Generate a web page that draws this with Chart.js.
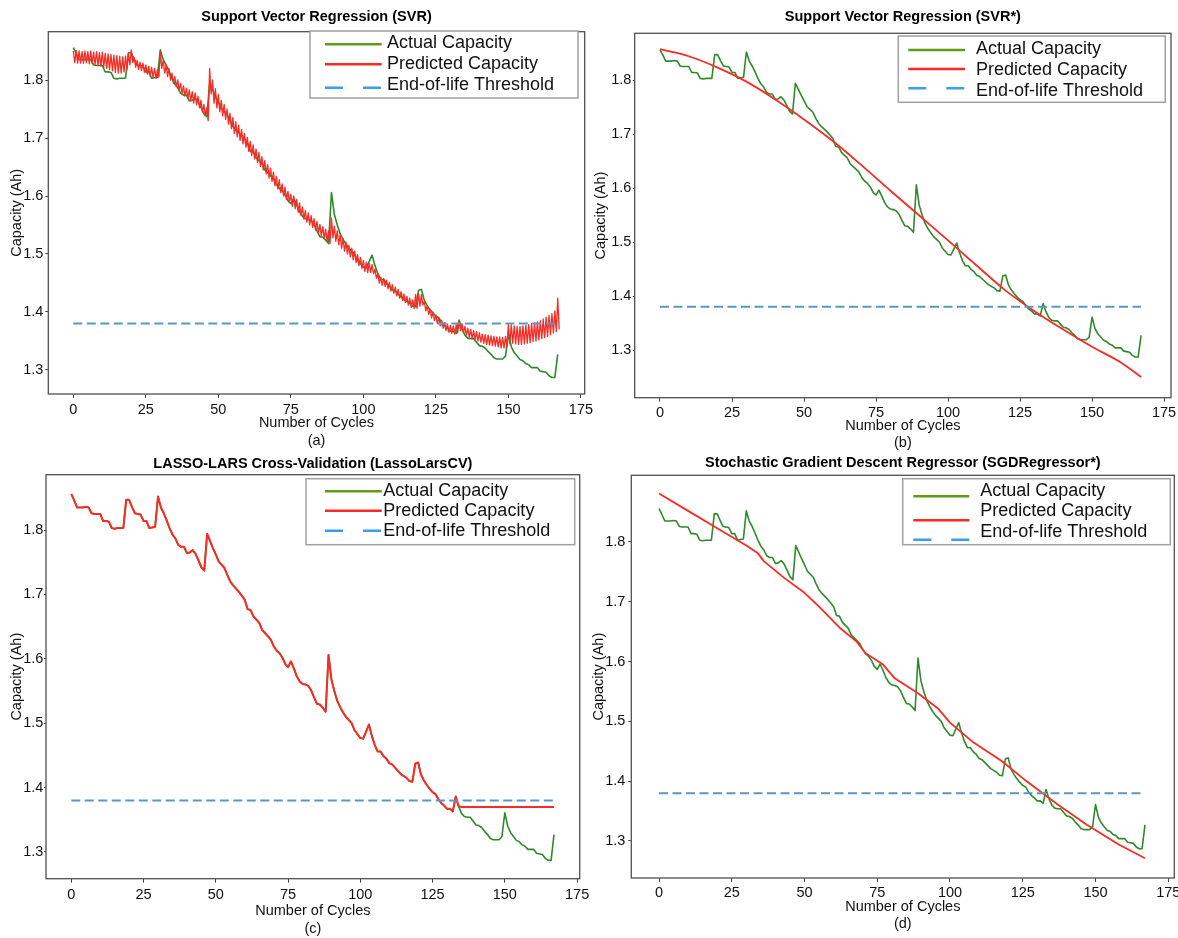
<!DOCTYPE html>
<html><head><meta charset="utf-8">
<script src="https://cdn.jsdelivr.net/npm/chart.js@4.4.1/dist/chart.umd.min.js"></script>
<style>
html,body{margin:0;padding:0;background:#fff;overflow:hidden;width:1178px;height:938px;position:relative;}
canvas{position:absolute;}
</style></head><body>
<canvas id="cA" width="600" height="470" style="left:0px;top:0px"></canvas>
<canvas id="cB" width="600" height="470" style="left:590px;top:0px"></canvas>
<canvas id="cC" width="600" height="493" style="left:0px;top:445px"></canvas>
<canvas id="cD" width="600" height="493" style="left:590px;top:445px"></canvas>
<script>
// ---------- data ----------
const actualCapacity = [
 1.856,1.846,1.835,1.835,1.835,1.836,1.835,1.826,1.825,1.825,
 1.825,1.814,1.814,1.813,1.803,1.802,1.803,1.803,1.803,1.847,
 1.847,1.836,1.826,1.825,1.824,1.814,1.814,1.803,1.804,1.805,
 1.852,1.835,1.826,1.815,1.803,1.793,1.787,1.777,1.774,1.774,
 1.764,1.765,1.769,1.763,1.753,1.742,1.737,1.794,1.783,1.772,
 1.762,1.751,1.746,1.741,1.730,1.720,1.714,1.709,1.704,1.698,
 1.692,1.677,1.676,1.666,1.661,1.656,1.645,1.640,1.635,1.630,
 1.620,1.613,1.609,1.602,1.592,1.587,1.596,1.585,1.573,1.565,
 1.561,1.560,1.558,1.551,1.540,1.530,1.529,1.524,1.518,1.606,
 1.568,1.550,1.535,1.525,1.517,1.510,1.505,1.500,1.489,1.483,
 1.477,1.476,1.487,1.498,1.480,1.466,1.456,1.456,1.449,1.445,
 1.438,1.436,1.431,1.426,1.421,1.418,1.415,1.410,1.409,1.437,
 1.439,1.420,1.411,1.404,1.398,1.393,1.390,1.382,1.376,1.372,
 1.367,1.367,1.363,1.386,1.371,1.360,1.355,1.354,1.354,1.348,
 1.342,1.341,1.338,1.332,1.327,1.321,1.319,1.319,1.319,1.324,
 1.361,1.340,1.330,1.324,1.318,1.316,1.311,1.309,1.304,1.304,
 1.304,1.298,1.297,1.296,1.290,1.287,1.287,1.327];

// (a) SVR prediction: upper and lower turning points of the zig-zag per cycle
const svrHigh = [
 1.850,1.851,1.850,1.849,1.850,1.849,1.850,1.848,1.849,1.847,
 1.848,1.846,1.845,1.844,1.843,1.842,1.841,1.840,1.841,1.846,
 1.852,1.838,1.834,1.831,1.829,1.826,1.824,1.822,1.820,1.818,
 1.848,1.834,1.826,1.820,1.812,1.806,1.800,1.794,1.790,1.786,
 1.783,1.780,1.778,1.772,1.765,1.758,1.752,1.820,1.800,1.785,
 1.775,1.765,1.758,1.750,1.743,1.735,1.728,1.722,1.715,1.708,
 1.701,1.694,1.688,1.681,1.675,1.668,1.661,1.654,1.648,1.641,
 1.634,1.628,1.621,1.615,1.608,1.603,1.600,1.594,1.588,1.581,
 1.575,1.571,1.566,1.561,1.556,1.551,1.547,1.543,1.540,1.562,
 1.548,1.540,1.533,1.527,1.521,1.515,1.510,1.505,1.499,1.494,
 1.489,1.486,1.484,1.482,1.474,1.466,1.460,1.458,1.455,1.451,
 1.447,1.443,1.439,1.435,1.431,1.427,1.424,1.421,1.430,1.432,
 1.430,1.418,1.411,1.405,1.400,1.395,1.390,1.386,1.382,1.379,
 1.377,1.376,1.378,1.385,1.380,1.375,1.372,1.370,1.368,1.366,
 1.364,1.362,1.361,1.360,1.359,1.358,1.357,1.357,1.356,1.358,
 1.380,1.378,1.376,1.375,1.375,1.376,1.377,1.378,1.380,1.381,
 1.383,1.385,1.388,1.391,1.394,1.397,1.402,1.424];
const svrLow = [
 1.830,1.829,1.829,1.829,1.830,1.828,1.828,1.827,1.825,1.824,
 1.822,1.820,1.818,1.816,1.813,1.812,1.812,1.814,1.818,1.826,
 1.830,1.822,1.818,1.816,1.813,1.810,1.807,1.804,1.803,1.805,
 1.820,1.812,1.806,1.800,1.794,1.788,1.782,1.776,1.772,1.768,
 1.764,1.760,1.757,1.752,1.745,1.738,1.730,1.776,1.760,1.752,
 1.745,1.738,1.732,1.724,1.716,1.708,1.702,1.696,1.690,1.684,
 1.677,1.670,1.664,1.658,1.651,1.645,1.638,1.631,1.625,1.618,
 1.612,1.606,1.600,1.594,1.588,1.582,1.578,1.572,1.566,1.560,
 1.555,1.550,1.546,1.541,1.536,1.531,1.527,1.522,1.518,1.528,
 1.522,1.516,1.510,1.505,1.500,1.495,1.490,1.485,1.480,1.475,
 1.470,1.468,1.468,1.466,1.458,1.450,1.446,1.444,1.440,1.436,
 1.432,1.428,1.424,1.420,1.416,1.412,1.408,1.406,1.406,1.410,
 1.412,1.402,1.396,1.390,1.385,1.380,1.376,1.372,1.368,1.365,
 1.363,1.362,1.364,1.368,1.364,1.360,1.356,1.354,1.352,1.350,
 1.348,1.346,1.344,1.343,1.342,1.341,1.340,1.338,1.338,1.340,
 1.345,1.346,1.345,1.344,1.344,1.345,1.346,1.347,1.349,1.350,
 1.352,1.354,1.356,1.358,1.361,1.364,1.366,1.370];

// (b) SVR* prediction
const svrStarCycles = [0,10,20,30,40,50,60,70,80,90,100,110,120,130,140,150,160,167];
const svrStarPred   = [1.857,1.844,1.823,1.797,1.764,1.727,1.687,1.642,1.595,1.549,1.503,1.456,1.410,1.372,1.338,1.306,1.277,1.250];

// (c) LassoLarsCV prediction
const lassoPred = [
 1.856,1.846,1.835,1.835,1.835,1.836,1.835,1.826,1.825,1.825,
 1.825,1.814,1.814,1.813,1.803,1.802,1.803,1.803,1.803,1.847,
 1.847,1.836,1.826,1.825,1.824,1.814,1.814,1.803,1.804,1.805,
 1.852,1.835,1.826,1.815,1.803,1.793,1.787,1.777,1.774,1.774,
 1.764,1.765,1.769,1.763,1.753,1.742,1.737,1.794,1.783,1.772,
 1.762,1.751,1.746,1.741,1.730,1.720,1.714,1.709,1.704,1.698,
 1.692,1.677,1.676,1.666,1.661,1.656,1.645,1.640,1.635,1.630,
 1.620,1.613,1.609,1.602,1.592,1.587,1.596,1.585,1.573,1.565,
 1.561,1.560,1.558,1.551,1.540,1.530,1.529,1.524,1.518,1.606,
 1.568,1.550,1.535,1.525,1.517,1.510,1.505,1.500,1.489,1.483,
 1.477,1.476,1.487,1.498,1.480,1.466,1.456,1.456,1.449,1.445,
 1.438,1.436,1.431,1.426,1.421,1.418,1.415,1.410,1.409,1.437,
 1.439,1.420,1.411,1.404,1.398,1.393,1.390,1.382,1.376,1.372,
 1.367,1.367,1.363,1.386,1.371,1.370,1.370,1.370,1.370,1.370,
 1.370,1.370,1.370,1.370,1.370,1.370,1.370,1.370,1.370,1.370,
 1.370,1.370,1.370,1.370,1.370,1.370,1.370,1.370,1.370,1.370,
 1.370,1.370,1.370,1.370,1.370,1.370,1.370,1.370];

// (d) SGDRegressor* prediction
const sgdCycles = [0,10,20,30,34,36,43,50,55,62,68,71,77,81,89,96,100,108,118,126,137,147,158,167];
const sgdPred   = [1.881,1.852,1.823,1.794,1.781,1.768,1.740,1.715,1.692,1.657,1.633,1.614,1.595,1.572,1.547,1.521,1.498,1.465,1.433,1.401,1.361,1.327,1.294,1.271];

const eolThreshold = 1.38;
const xTickValues = [0,25,50,75,100,125,150,175];
const yTickValues = [1.3,1.4,1.5,1.6,1.7,1.8];
const cycles = actualCapacity.map((_, i) => i);
const seriesNames = ['Actual Capacity','Predicted Capacity','End-of-life Threshold'];

// ---------- styling ----------
const FONT = "'Liberation Sans', Arial, Helvetica, sans-serif";
const GREEN = '#2e8a2a', GREEN_LEG = '#5e9d14';
const RED = '#fa2a24';
const BLUE = '#5897c6', BLUE_LEG = '#3b9cf0';

const pts = (xs, ys) => ys.map((y, i) => ({x: xs[i], y}));
const thresholdLine = () => [{x: cycles[0], y: eolThreshold}, {x: cycles[cycles.length - 1], y: eolThreshold}];

const framePlugin = {
  id: 'frame',
  afterDatasetsDraw(chart, args, o) {
    const {ctx, chartArea: a} = chart;
    ctx.save();
    ctx.strokeStyle = '#505050'; ctx.lineWidth = 1.3;
    ctx.strokeRect(a.left, a.top, a.right - a.left, a.bottom - a.top);
    const L = o.legend;
    const bx = a.right + L.dx, by = a.top + L.dy;
    ctx.fillStyle = '#fff'; ctx.fillRect(bx, by, L.w, L.h);
    ctx.strokeStyle = '#a0a0a0'; ctx.lineWidth = 1.5; ctx.strokeRect(bx, by, L.w, L.h);
    const colors = [GREEN_LEG, RED, BLUE_LEG];
    chart.data.datasets.forEach((ds, i) => {
      ctx.beginPath();
      ctx.setLineDash(i === 2 ? [18, 20] : []);
      ctx.strokeStyle = colors[i]; ctx.lineWidth = 2.6;
      ctx.moveTo(bx + L.lx0, by + L.ly[i]); ctx.lineTo(bx + L.lx1, by + L.ly[i]);
      ctx.stroke();
      ctx.setLineDash([]);
      ctx.fillStyle = '#111'; ctx.font = '18px ' + FONT;
      ctx.textAlign = 'left'; ctx.textBaseline = 'middle';
      ctx.fillText(ds.label, bx + L.tx, by + L.ty[i]);
    });
    ctx.restore();
  }
};

function makeChart(id, P) {
  return new Chart(document.getElementById(id), {
    type: 'line',
    data: {datasets: P.datasets},
    options: {
      responsive: false, animation: false, devicePixelRatio: 1,
      layout: {padding: P.pad},
      elements: {point: {radius: 0}, line: {borderJoinStyle: 'round', tension: 0}},
      plugins: {
        legend: {display: false}, tooltip: {enabled: false},
        title: {display: true, text: P.title, fullSize: false, color: '#000',
                font: {family: FONT, size: 14.5, weight: 'bold'}, padding: P.titlePad},
        subtitle: {display: true, text: P.sub, position: 'bottom', fullSize: false, color: '#111',
                   font: {family: FONT, size: 14.5}, padding: {top: 0, bottom: 0}},
        frame: {legend: P.legend}
      },
      scales: {
        x: {
          type: 'linear', min: P.xmin, max: P.xmax,
          afterBuildTicks: s => { s.ticks = xTickValues.map(v => ({value: v})); },
          afterFit: s => { s.height = P.xH; },
          grid: {display: true, drawOnChartArea: false, drawTicks: true, tickLength: P.xTL, color: '#444'},
          border: {display: false},
          ticks: {padding: P.xTP, color: '#111', font: {family: FONT, size: 14.5}, maxRotation: 0, autoSkip: false,
                  callback: v => String(v)},
          title: {display: true, text: 'Number of Cycles', color: '#111', font: {family: FONT, size: 14.5},
                  padding: {top: 0, bottom: 0}}
        },
        y: {
          type: 'linear', min: P.ymin, max: P.ymax,
          afterBuildTicks: s => { s.ticks = yTickValues.map(v => ({value: v})); },
          afterFit: s => { s.width = P.yW; },
          grid: {display: true, drawOnChartArea: false, drawTicks: true, tickLength: P.yTL, color: '#444'},
          border: {display: false},
          ticks: {padding: P.yTP, color: '#111', font: {family: FONT, size: 14.5}, autoSkip: false,
                  callback: v => Number(v).toFixed(1)},
          title: {display: true, text: 'Capacity (Ah)', color: '#111', font: {family: FONT, size: 14.5},
                  padding: {top: P.yTitlePad, bottom: 0}}
        }
      }
    },
    plugins: [framePlugin]
  });
}

function baseSets(pred, predWidth) {
  return [
    {label: seriesNames[0], data: pts(cycles, actualCapacity), borderColor: GREEN, borderWidth: 1.6, order: 3},
    Object.assign({label: seriesNames[1], borderColor: RED, borderWidth: predWidth, order: 2}, pred),
    {label: seriesNames[2], data: thresholdLine(), borderColor: BLUE, borderWidth: 2, borderDash: [9, 4.5], order: 1}
  ];
}

// (a) zig-zag SVR: high point at the cycle, low point half a cycle later
const svrZigzag = svrHigh.flatMap((h, i) => [{x: cycles[i], y: h}, {x: cycles[i] + 0.5, y: svrLow[i]}]);

makeChart('cA', {
  title: 'Support Vector Regression (SVR)', sub: '(a)',
  datasets: baseSets({data: svrZigzag}, 1.3),
  pad: {left: 0, top: 0, right: 15.3, bottom: 20.6},
  titlePad: {top: 8.6, bottom: 5.7},
  xmin: -8.62, xmax: 176.3, ymin: 1.2586, ymax: 1.8833,
  xH: 38, xTL: 4, xTP: 3.3, yW: 48.3, yTL: 3, yTP: 2, yTitlePad: 8,
  legend: {dx: -274.7, dy: -0.7, w: 268, h: 67, lx0: 15, lx1: 71.7, tx: 77, ty: [12.3, 33.3, 54], ly: [13.3, 33.3, 56.7]}
});

makeChart('cB', {
  title: 'Support Vector Regression (SVR*)', sub: '(b)',
  datasets: baseSets({data: pts(svrStarCycles, svrStarPred), cubicInterpolationMode: 'monotone'}, 1.8),
  pad: {left: 0, top: 0, right: 19, bottom: 17.9},
  titlePad: {top: 8.3, bottom: 7.6},
  xmin: -8.78, xmax: 177.4, ymin: 1.2117, ymax: 1.8865,
  xH: 37, xTL: 4, xTP: 2.9, yW: 44.7, yTL: 2, yTP: 1.4, yTitlePad: 2.6,
  legend: {dx: -272.7, dy: 2.7, w: 267, h: 66.3, lx0: 10, lx1: 66.7, tx: 77.7, ty: [13, 34, 54.7], ly: [14, 33, 52.3]}
});

makeChart('cC', {
  title: 'LASSO-LARS Cross-Validation (LassoLarsCV)', sub: '(c)',
  datasets: baseSets({data: pts(cycles, lassoPred)}, 2),
  pad: {left: 0, top: 0, right: 20.3, bottom: 0.6},
  titlePad: {top: 10.3, bottom: 2},
  xmin: -8.75, xmax: 175.9, ymin: 1.2585, ymax: 1.8859,
  xH: 41.3, xTL: 4, xTP: 3.9, yW: 46, yTL: 2, yTP: 0.7, yTitlePad: 8,
  legend: {dx: -273.7, dy: 4, w: 268.7, h: 66, lx0: 19, lx1: 75.7, tx: 77.3, ty: [12, 32, 52.6], ly: [12.6, 32, 52]}
});

makeChart('cD', {
  title: 'Stochastic Gradient Descent Regressor (SGDRegressor*)', sub: '(d)',
  datasets: baseSets({data: pts(sgdCycles, sgdPred)}, 1.8),
  pad: {left: 0, top: 0, right: 15.7, bottom: 4.9},
  titlePad: {top: 9.6, bottom: 3.3},
  xmin: -9.52, xmax: 177.08, ymin: 1.2381, ymax: 1.9115,
  xH: 37.7, xTL: 4, xTP: 2.3, yW: 41.3, yTL: 3, yTP: 3, yTitlePad: 0,
  legend: {dx: -271.6, dy: 3.4, w: 267.6, h: 66, lx0: 10.6, lx1: 66.6, tx: 77.6, ty: [12, 32.6, 53.3], ly: [17.6, 41.6, 61]}
});
</script>
</body></html>
